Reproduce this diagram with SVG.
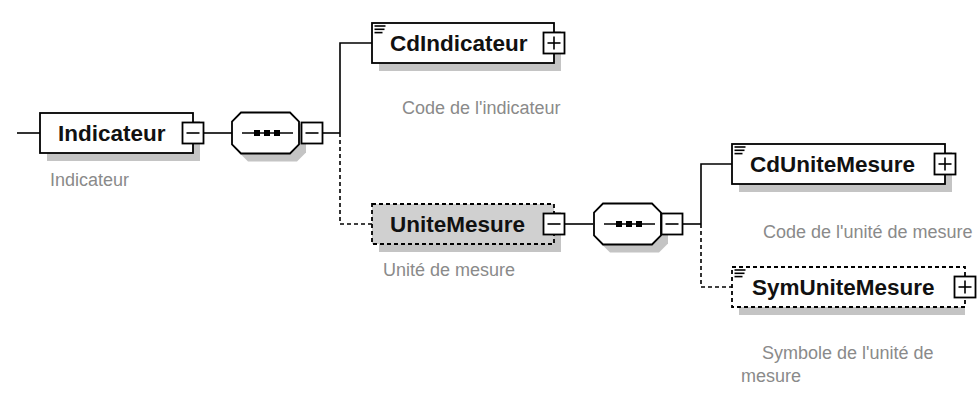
<svg xmlns="http://www.w3.org/2000/svg" width="978" height="396" viewBox="0 0 978 396">
<defs>
<style>
.box{fill:#fff;stroke:#000;stroke-width:1.8}
.opt{fill:#fff;stroke:#000;stroke-width:1.8;stroke-dasharray:4 3}
.optg{fill:#d0d0d0;stroke:#000;stroke-width:1.8;stroke-dasharray:4 3}
.sh{fill:#c4c4c4}
.name{font-family:"Liberation Sans",Arial,sans-serif;font-weight:bold;font-size:22.5px;fill:#111}
.lab{font-family:"Liberation Sans",Arial,sans-serif;font-size:18px;fill:#8a8a8a}
.ln{fill:none;stroke:#000;stroke-width:1.6}
.dl{fill:none;stroke:#000;stroke-width:1.6;stroke-dasharray:4 3}
.pm{fill:#fff;stroke:#000;stroke-width:1.8}
.ic{stroke:#000;stroke-width:1.6}
</style>
<g id="minus"><rect class="pm" x="-10.5" y="-10.5" width="21" height="21"/><line class="ic" x1="-6.5" y1="0" x2="6.5" y2="0" stroke-width="1.8"/></g>
<g id="plus"><rect class="pm" x="-10.5" y="-10.5" width="21" height="21"/><line class="ic" x1="-6.5" y1="0" x2="6.5" y2="0" stroke-width="1.8"/><line class="ic" x1="0" y1="-6.5" x2="0" y2="6.5" stroke-width="1.8"/></g>
<g id="lines"><line class="ic" x1="0" y1="0" x2="11" y2="0"/><line class="ic" x1="0" y1="3.3" x2="10" y2="3.3"/><line class="ic" x1="0" y1="6.6" x2="8" y2="6.6"/></g>
<g id="seq">
<polygon points="9,0 58,0 67,9 67,32 58,41 9,41 0,32 0,9" transform="translate(7,8)" class="sh"/>
<polygon points="9,0 58,0 67,9 67,32 58,41 9,41 0,32 0,9" class="box"/>
<line class="ln" x1="10" y1="20.5" x2="61" y2="20.5"/>
<rect x="22" y="17.5" width="6" height="6" fill="#000"/>
<rect x="32" y="17.5" width="6" height="6" fill="#000"/>
<rect x="42" y="17.5" width="6" height="6" fill="#000"/>
</g>
</defs>

<g id="connectors">
<line class="ln" x1="17" y1="133" x2="40" y2="133"/>
<line class="ln" x1="203" y1="133" x2="232" y2="133"/>
<line class="ln" x1="322" y1="133" x2="340" y2="133"/>
<polyline class="ln" points="340,133 340,43 372,43"/>
<polyline class="dl" points="340,133 340,224 372,224"/>
<line class="ln" x1="564" y1="224" x2="593" y2="224"/>
<line class="ln" x1="683" y1="224" x2="701" y2="224"/>
<polyline class="ln" points="701,224 701,164 732,164"/>
<polyline class="dl" points="701,224 701,287 732,287"/>
</g>

<g id="Indicateur">
<rect class="sh" x="47" y="121" width="153" height="40"/>
<rect class="box" x="40" y="113" width="153" height="40"/>
<text class="name" x="58" y="141">Indicateur</text>
<use href="#minus" x="193" y="133"/>
<text class="lab" x="50" y="186">Indicateur</text>
</g>

<g id="seq1">
<use href="#seq" x="232" y="112.5"/>
<use href="#minus" x="312" y="133"/>
</g>

<g id="CdIndicateur">
<rect class="sh" x="379" y="31" width="182" height="40"/>
<rect class="box" x="372" y="23" width="182" height="40"/>
<use href="#lines" x="374.5" y="26"/>
<text class="name" x="390" y="51">CdIndicateur</text>
<use href="#plus" x="554" y="43"/>
<text class="lab" x="402" y="114">Code de l'indicateur</text>
</g>

<g id="UniteMesure">
<rect class="sh" x="379" y="212" width="182" height="40"/>
<rect class="optg" x="372" y="204" width="182" height="40"/>
<text class="name" x="390" y="232">UniteMesure</text>
<use href="#minus" x="554" y="224"/>
<text class="lab" x="383" y="276">Unité de mesure</text>
</g>

<g id="seq2">
<use href="#seq" x="594" y="203.5"/>
<use href="#minus" x="672" y="224"/>
</g>

<g id="CdUniteMesure">
<rect class="sh" x="739" y="152" width="213" height="40"/>
<rect class="box" x="732" y="144" width="213" height="40"/>
<use href="#lines" x="734.5" y="147"/>
<text class="name" x="750" y="172">CdUniteMesure</text>
<use href="#plus" x="945" y="164"/>
<text class="lab" x="763" y="238">Code de l'unité de mesure</text>
</g>

<g id="SymUniteMesure">
<rect class="sh" x="739" y="275" width="226" height="40"/>
<rect class="opt" x="732" y="267" width="233" height="40"/>
<use href="#lines" x="734.5" y="270"/>
<text class="name" x="752" y="295">SymUniteMesure</text>
<use href="#plus" x="965" y="287"/>
<text class="lab" x="762" y="359">Symbole de l'unité de</text>
<text class="lab" x="741" y="382">mesure</text>
</g>
</svg>
